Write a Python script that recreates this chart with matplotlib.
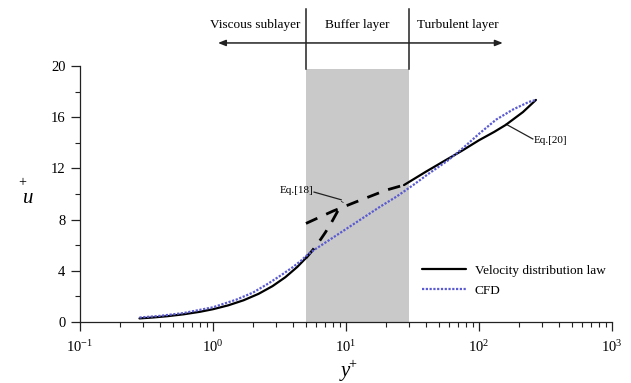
import matplotlib
matplotlib.use("Agg")
import matplotlib.pyplot as plt
from matplotlib.ticker import LogLocator, MultipleLocator, FixedLocator

plt.rcParams['font.family'] = ['Liberation Serif', 'DejaVu Serif']
plt.rcParams['mathtext.fontset'] = 'custom'
plt.rcParams['mathtext.rm'] = 'Liberation Serif'
plt.rcParams['mathtext.it'] = 'Liberation Serif:italic'

# Layer boundaries in wall units
buffer_start = 5.0
buffer_end = 30.0
buffer_top = 19.8

# Velocity distribution law: viscous sublayer (solid)
visc_y = [0.28, 0.35, 0.45, 0.6, 0.8, 1.0, 1.3, 1.7, 2.2, 2.8, 3.5, 4.3, 5.0]
visc_u = [0.28, 0.35, 0.45, 0.6, 0.8, 1.0, 1.3, 1.7, 2.2, 2.8, 3.5, 4.3, 5.0]
# Viscous law continued into the buffer layer (dashed)
visc_ext_y = [5.0, 5.6, 6.3, 7.0, 7.8, 8.6, 9.4]
visc_ext_u = [5.0, 5.6, 6.3, 7.0, 7.8, 8.6, 9.4]
# Eq.[18] in the buffer layer (dashed)
eq18_y = [5.0, 8.0, 12.0, 20.0, 27.3]
eq18_u = [7.7, 8.67, 9.4, 10.3, 10.7]
# Eq.[20] in the turbulent layer (solid)
eq20_y = [27.3, 40.0, 56.5, 75.0, 100.0, 130.0, 159.0, 214.0, 268.0]
eq20_u = [10.7, 11.75, 12.66, 13.4, 14.2, 14.85, 15.4, 16.4, 17.35]

# CFD profile
cfd_y = [0.28, 0.4, 0.6, 1.0, 1.5, 2.0, 2.6, 3.3, 4.0, 4.6, 5.0, 5.7, 8.0, 12.0,
         18.0, 24.0, 32.0, 42.0, 58.0, 76.0, 100.0, 134.0, 180.0, 238.0, 268.0]
cfd_u = [0.35, 0.48, 0.7, 1.15, 1.75, 2.3, 3.0, 3.7, 4.3, 4.8, 5.15, 5.6, 6.6, 7.8,
         9.0, 9.8, 10.7, 11.6, 12.6, 13.6, 14.7, 15.8, 16.6, 17.2, 17.35]

y_ticks = [0, 4, 8, 12, 16, 20]
layer_names = ["Viscous sublayer", "Buffer layer", "Turbulent layer"]

fig = plt.figure(figsize=(6.31, 3.83), dpi=100)
ax = fig.add_axes([80 / 631, 61 / 383, 532 / 631, 256 / 383])

ax.set_xscale('log')
ax.set_xlim(0.1, 1000)
ax.set_ylim(0, 20)

# Buffer layer shading
ax.fill_between([buffer_start, buffer_end], 0, buffer_top, color='#c9c9c9', lw=0, zorder=0)

line_kw = dict(color='black', lw=1.6, solid_capstyle='round')
ax.plot(visc_y, visc_u, label='Velocity distribution law', zorder=3, **line_kw)
ax.plot(eq20_y, eq20_u, zorder=3, **line_kw)
ax.plot(visc_ext_y, visc_ext_u, color='black', lw=2.0, ls=(0, (4.5, 3.5)), zorder=3)
ax.plot(eq18_y, eq18_u, color='black', lw=2.0, ls=(0, (4.5, 3.5)), zorder=3)
ax.plot(cfd_y, cfd_u, color='#5a5ad2', lw=1.6, ls=(0, (1, 0.7)), label='CFD', zorder=4)

# Axes styling
for s in ('top', 'right'):
    ax.spines[s].set_visible(False)
for s in ('left', 'bottom'):
    ax.spines[s].set_linewidth(0.9)
    ax.spines[s].set_color('#222222')

ax.yaxis.set_major_locator(FixedLocator(y_ticks))
ax.yaxis.set_minor_locator(MultipleLocator(2))
ax.xaxis.set_major_locator(LogLocator(base=10, numticks=10))
ax.xaxis.set_minor_locator(LogLocator(base=10, subs=range(2, 10), numticks=20))
ax.tick_params(which='major', direction='out', length=6.5, width=0.9, color='#222222',
               labelsize=10.5, pad=4)
ax.tick_params(which='minor', direction='out', length=3.5, width=0.8, color='#222222')
ax.tick_params(axis='x', which='major', pad=6)

# Axis labels
ax.text(-0.098, 0.484, 'u', transform=ax.transAxes, fontsize=15, style='italic',
        ha='center', va='center')
ax.text(-0.109, 0.545, '+', transform=ax.transAxes, fontsize=10, ha='center', va='center')
ax.text(0.498, -0.212, 'y', transform=ax.transAxes, fontsize=15, style='italic',
        ha='center', va='baseline', clip_on=False)
ax.text(0.512, -0.168, '+', transform=ax.transAxes, fontsize=10, ha='center', va='center')

# Layer markers above the plot
for xb in (buffer_start, buffer_end):
    ax.plot([xb, xb], [buffer_top, 24.45], color='#222222', lw=1.1, clip_on=False)
ax.annotate('', xy=(1.09, 21.8), xytext=(151, 21.8), annotation_clip=False,
            arrowprops=dict(arrowstyle='<|-|>,head_length=0.45,head_width=0.18',
                            color='#222222', lw=1.1, shrinkA=0, shrinkB=0))
for name, xc in zip(layer_names, (2.07, 12.25, 69.5)):
    ax.text(xc, 23.2, name, ha='center', va='center', fontsize=9.5, clip_on=False)

# Equation call-outs
ax.text(5.65, 10.3, 'Eq.[18]', ha='right', va='center', fontsize=8)
ax.plot([5.75, 9.2], [10.15, 9.55], color='#222222', lw=0.9)
ax.text(259, 14.2, 'Eq.[20]', ha='left', va='center', fontsize=8)
ax.plot([160, 254], [15.45, 14.3], color='#222222', lw=0.9)

leg = ax.legend(loc='upper left', bbox_to_anchor=(0.643, 0.225), frameon=False,
                fontsize=9.5, handlelength=3.3, handletextpad=0.7, labelspacing=0.6,
                borderpad=0, borderaxespad=0)

fig.savefig('out.png', dpi=100)
